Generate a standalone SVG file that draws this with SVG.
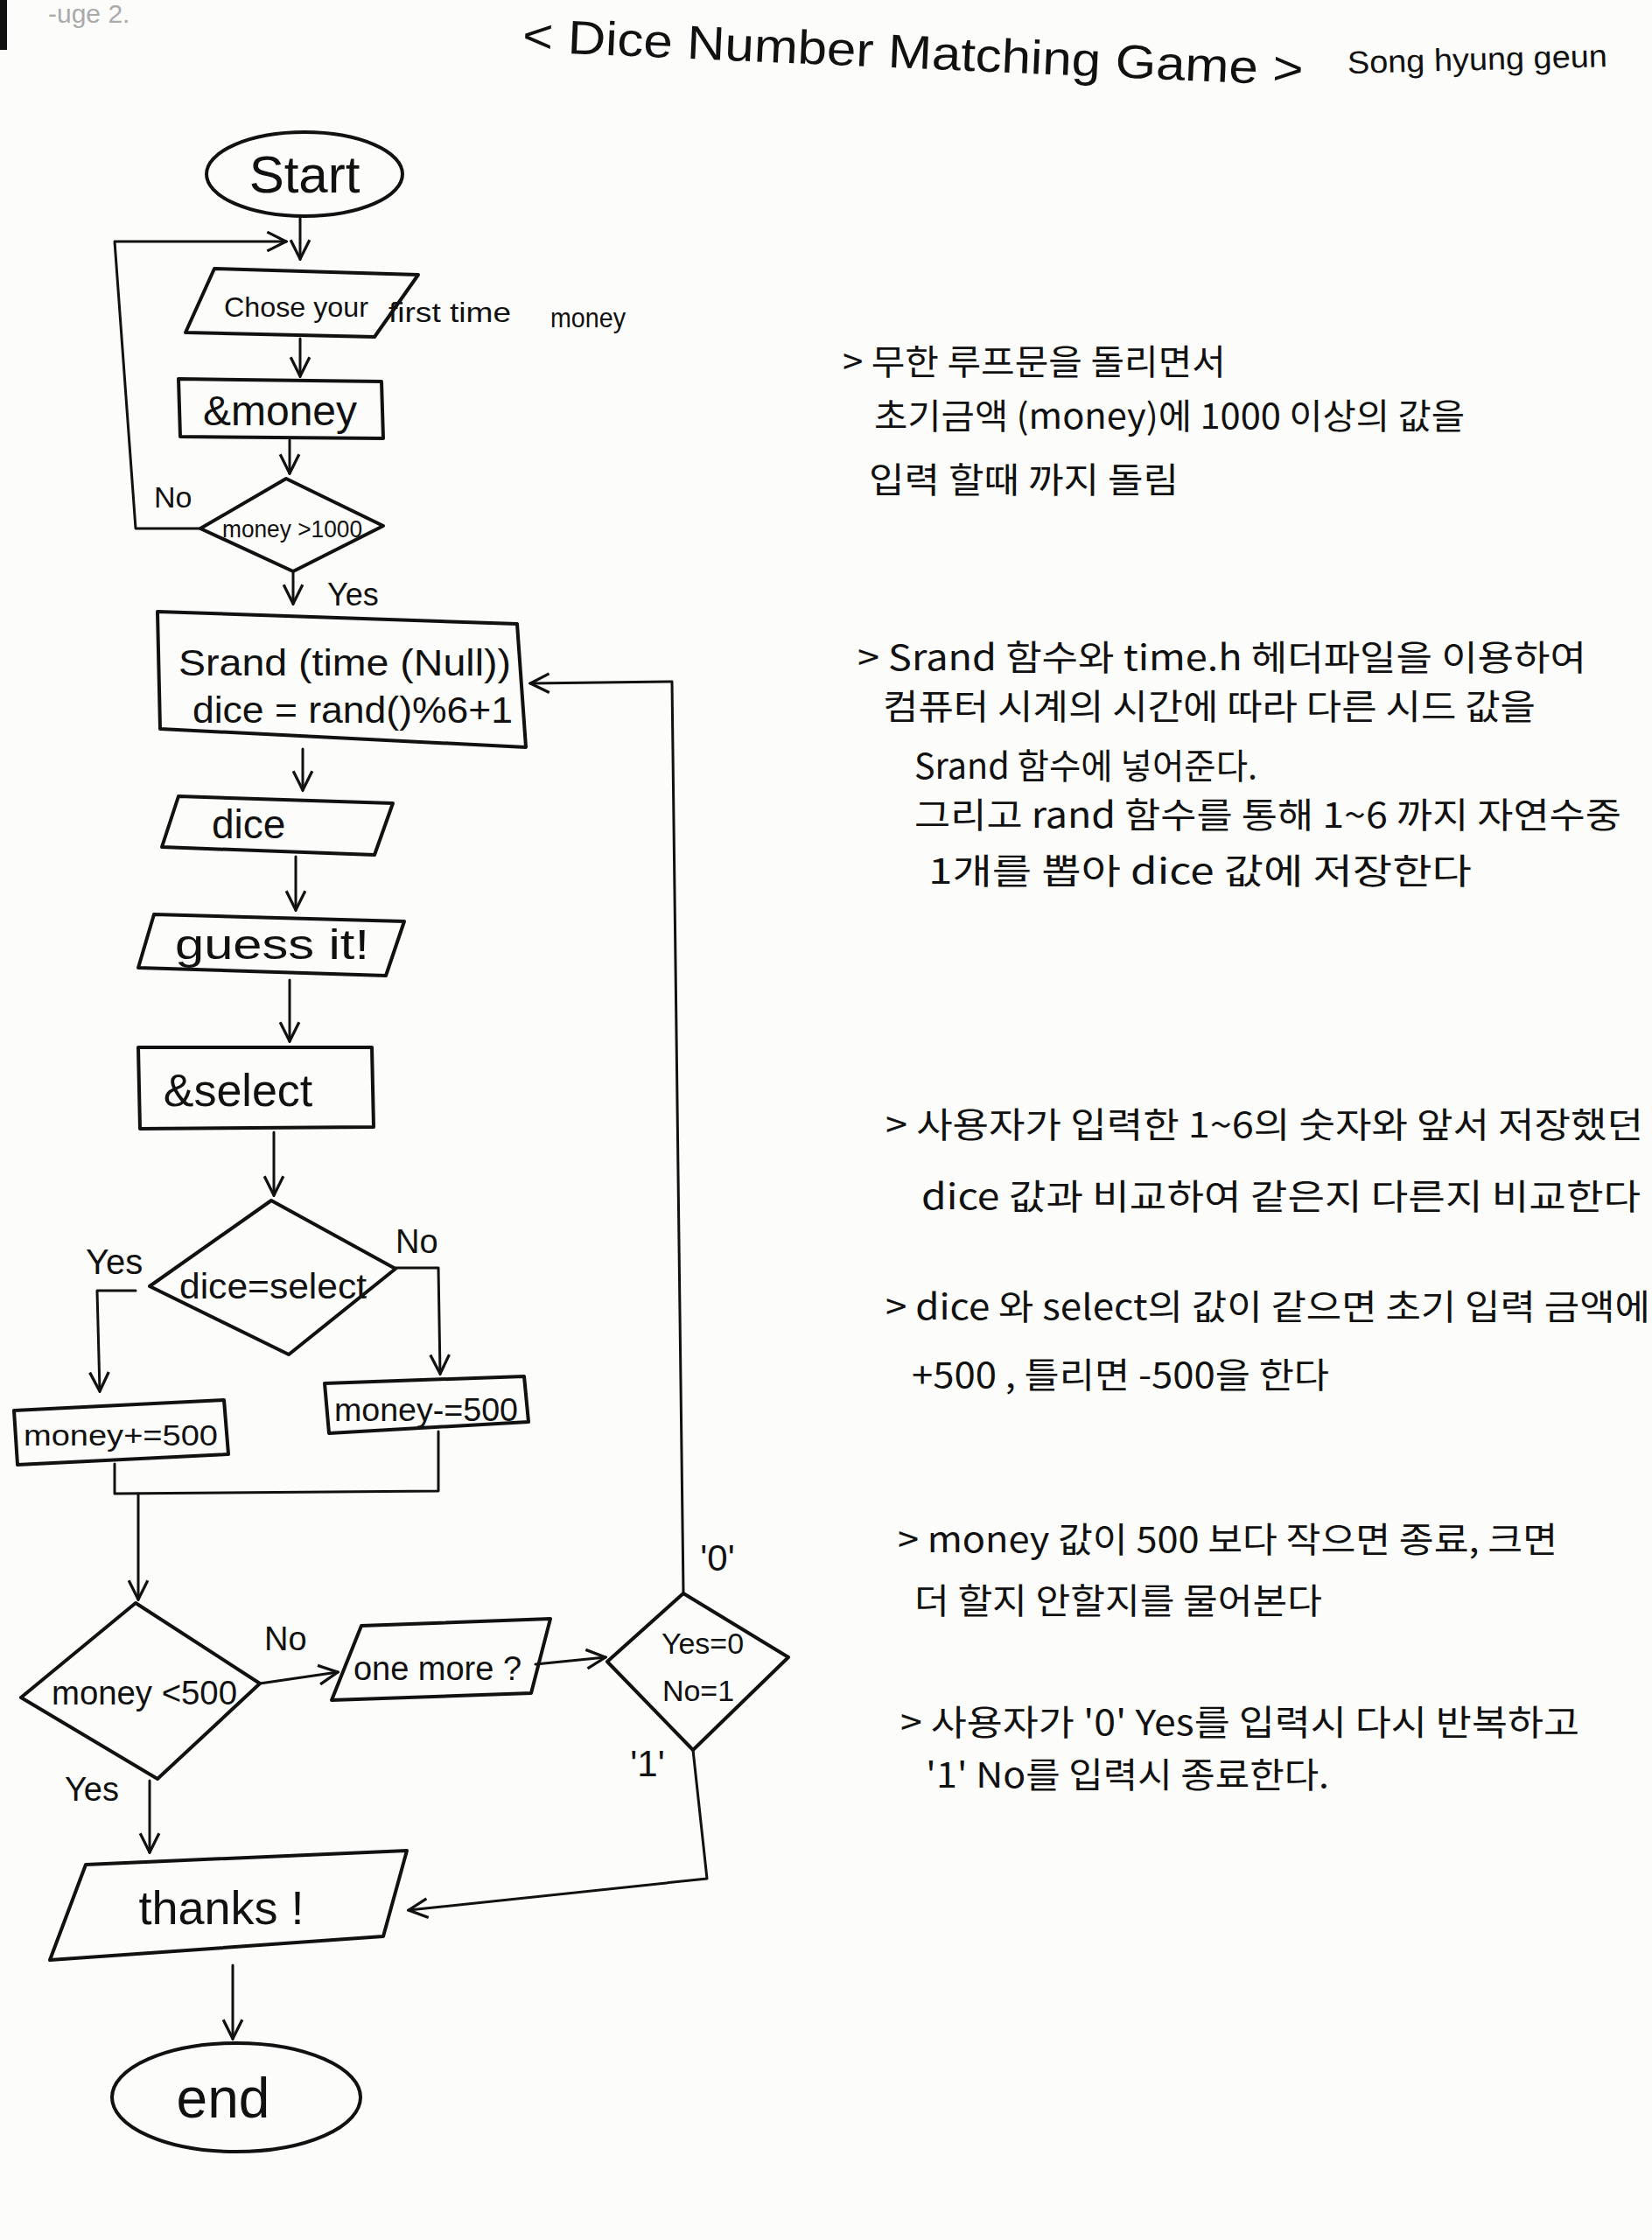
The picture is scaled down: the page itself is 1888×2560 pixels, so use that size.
<svg xmlns="http://www.w3.org/2000/svg" width="1888" height="2560" viewBox="0 0 1888 2560">
<defs>
<marker id="a" viewBox="0 0 12 12" refX="11" refY="6" markerWidth="26" markerHeight="26" markerUnits="userSpaceOnUse" orient="auto"><path d="M1,1 L11,6 L1,11" fill="none" stroke="#111" stroke-width="1.5"/></marker>
<style>
.s{fill:none;stroke:#111;stroke-width:4;stroke-linejoin:round;stroke-linecap:round}
.c{fill:none;stroke:#111;stroke-width:3;stroke-linecap:round;stroke-linejoin:round}
.t{font-family:"Liberation Sans","Noto Sans CJK KR",sans-serif;fill:#111}
.m{text-anchor:middle}
.k{font-family:"Noto Sans CJK KR","Liberation Sans",sans-serif;fill:#111;font-size:40px}
</style>
</defs>
<rect width="1888" height="2560" fill="#fcfcfa"/>
<rect x="0" y="0" width="8" height="57" fill="#111"/>
<text class="t" x="55" y="26" font-size="30" style="fill:#aaa">-uge 2.</text>
<g id="title">
<text class="t" x="596" y="78" font-size="54" textLength="893" lengthAdjust="spacingAndGlyphs" transform="rotate(2.5 1040 80)">&lt; Dice Number Matching Game &gt;</text>
<text class="t" x="1540" y="80" font-size="36" textLength="297" lengthAdjust="spacingAndGlyphs" transform="rotate(-1.5 1690 75)">Song hyung geun</text>
</g>
<g id="connectors">
<path class="c" d="M343,247 L343,296" marker-end="url(#a)"/>
<path class="c" d="M229,604 L155,604 L131,276 L327,276" marker-end="url(#a)"/>
<path class="c" d="M343,387 L343,430" marker-end="url(#a)"/>
<path class="c" d="M331,503 L331,541" marker-end="url(#a)"/>
<path class="c" d="M335,655 L335,690" marker-end="url(#a)"/>
<path class="c" d="M346,856 L346,903" marker-end="url(#a)"/>
<path class="c" d="M338,979 L338,1040" marker-end="url(#a)"/>
<path class="c" d="M331,1120 L331,1190" marker-end="url(#a)"/>
<path class="c" d="M313,1294 L313,1366" marker-end="url(#a)"/>
<path class="c" d="M155,1475 L111,1475 L114,1590" marker-end="url(#a)"/>
<path class="c" d="M452,1449 L501,1449 L503,1570" marker-end="url(#a)"/>
<path class="c" d="M131,1673 L131,1707 L501,1704 L501,1636"/>
<path class="c" d="M158,1707 L158,1828" marker-end="url(#a)"/>
<path class="c" d="M297,1924 L386,1911" marker-end="url(#a)"/>
<path class="c" d="M612,1902 L692,1894" marker-end="url(#a)"/>
<path class="c" d="M781,1821 L768,779 L606,781" marker-end="url(#a)"/>
<path class="c" d="M171,2035 L171,2117" marker-end="url(#a)"/>
<path class="c" d="M792,2000 L808,2147 L467,2183" marker-end="url(#a)"/>
<path class="c" d="M266,2246 L266,2330" marker-end="url(#a)"/>
<text class="t" x="176" y="580" font-size="34">No</text>
<text class="t" x="374" y="692" font-size="36">Yes</text>
<text class="t" x="98" y="1456" font-size="40">Yes</text>
<text class="t" x="452" y="1432" font-size="38">No</text>
<text class="t" x="302" y="1886" font-size="38">No</text>
<text class="t" x="74" y="2058" font-size="38">Yes</text>
<text class="t m" x="820" y="1795" font-size="42">'0'</text>
<text class="t m" x="740" y="2030" font-size="42">'1'</text>
</g>
<g id="start"><ellipse class="s" cx="348" cy="199" rx="112" ry="48"/><text class="t m" x="348" y="220" font-size="60">Start</text></g>
<g id="input-money"><polygon class="s" points="245,307 478,314 428,385 212,380"/>
<text class="t" x="256" y="362" font-size="32" textLength="165" lengthAdjust="spacingAndGlyphs">Chose your</text>
<text class="t" x="444" y="368" font-size="32" textLength="140" lengthAdjust="spacingAndGlyphs">first time</text>
<text class="t" x="629" y="374" font-size="32" textLength="86" lengthAdjust="spacingAndGlyphs">money</text></g>
<g id="read-money"><polygon class="s" points="204,433 436,436 438,501 206,499"/><text class="t m" x="320" y="486" font-size="48">&amp;money</text></g>
<g id="check-money"><polygon class="s" points="327,547 438,601 335,653 229,604"/><text class="t m" x="334" y="614" font-size="28" textLength="160" lengthAdjust="spacingAndGlyphs">money &gt;1000</text></g>
<g id="srand"><polygon class="s" points="180,699 591,713 601,854 183,833"/>
<text class="t" x="204" y="772" font-size="42" textLength="380" lengthAdjust="spacingAndGlyphs">Srand (time (Null))</text>
<text class="t" x="220" y="826" font-size="42" textLength="366" lengthAdjust="spacingAndGlyphs">dice = rand()%6+1</text></g>
<g id="dice"><polygon class="s" points="204,910 449,918 428,977 185,968"/><text class="t" x="242" y="958" font-size="46">dice</text></g>
<g id="guess"><polygon class="s" points="176,1045 462,1053 441,1115 158,1106"/><text class="t" x="200" y="1096" font-size="48" textLength="222" lengthAdjust="spacingAndGlyphs">guess it!</text></g>
<g id="select"><polygon class="s" points="158,1197 425,1197 427,1288 160,1290"/><text class="t m" x="272" y="1264" font-size="52">&amp;select</text></g>
<g id="compare"><polygon class="s" points="310,1372 452,1450 330,1548 171,1470"/><text class="t m" x="312" y="1484" font-size="40" textLength="214" lengthAdjust="spacingAndGlyphs">dice=select</text></g>
<g id="plus"><polygon class="s" points="16,1612 256,1600 261,1662 20,1674"/><text class="t m" x="138" y="1652" font-size="34" textLength="222" lengthAdjust="spacingAndGlyphs">money+=500</text></g>
<g id="minus"><polygon class="s" points="371,1581 599,1573 604,1625 376,1638"/><text class="t m" x="487" y="1624" font-size="36" textLength="210" lengthAdjust="spacingAndGlyphs">money-=500</text></g>
<g id="check-500"><polygon class="s" points="155,1832 297,1924 180,2033 24,1940"/><text class="t m" x="165" y="1948" font-size="38" textLength="212" lengthAdjust="spacingAndGlyphs">money &lt;500</text></g>
<g id="one-more"><polygon class="s" points="413,1858 629,1850 607,1935 379,1943"/><text class="t m" x="500" y="1920" font-size="38">one more ?</text></g>
<g id="yes-no"><polygon class="s" points="781,1821 901,1894 792,2000 694,1899"/>
<text class="t m" x="803" y="1890" font-size="34">Yes=0</text>
<text class="t m" x="798" y="1944" font-size="34">No=1</text></g>
<g id="thanks"><polygon class="s" points="98,2131 465,2115 438,2213 57,2240"/><text class="t m" x="253" y="2199" font-size="54">thanks !</text></g>
<g id="end"><ellipse class="s" cx="270" cy="2397" rx="142" ry="62"/><text class="t m" x="255" y="2420" font-size="64">end</text></g>
<g id="notes">
<text class="k" x="963" y="428" textLength="438" lengthAdjust="spacingAndGlyphs">&gt; 무한 루프문을 돌리면서</text>
<text class="k" x="999" y="490" textLength="675" lengthAdjust="spacingAndGlyphs">초기금액 (money)에 1000 이상의 값을</text>
<text class="k" x="993" y="563" textLength="354" lengthAdjust="spacingAndGlyphs">입력 할때 까지 돌림</text>
<text class="k" x="980" y="766" textLength="833" lengthAdjust="spacingAndGlyphs">&gt; Srand 함수와 time.h 헤더파일을 이용하여</text>
<text class="k" x="1009" y="822" textLength="746" lengthAdjust="spacingAndGlyphs">컴퓨터 시계의 시간에 따라 다른 시드 값을</text>
<text class="k" x="1045" y="890" textLength="392" lengthAdjust="spacingAndGlyphs">Srand 함수에 넣어준다.</text>
<text class="k" x="1045" y="946" textLength="808" lengthAdjust="spacingAndGlyphs">그리고 rand 함수를 통해 1~6 까지 자연수중</text>
<text class="k" x="1061" y="1010" textLength="621" lengthAdjust="spacingAndGlyphs">1개를 뽑아 dice 값에 저장한다</text>
<text class="k" x="1012" y="1300" textLength="866" lengthAdjust="spacingAndGlyphs">&gt; 사용자가 입력한 1~6의 숫자와 앞서 저장했던</text>
<text class="k" x="1053" y="1382" textLength="822" lengthAdjust="spacingAndGlyphs">dice 값과 비교하여 같은지 다른지 비교한다</text>
<text class="k" x="1012" y="1508" textLength="874" lengthAdjust="spacingAndGlyphs">&gt; dice 와 select의 값이 같으면 초기 입력 금액에</text>
<text class="k" x="1042" y="1586" textLength="477" lengthAdjust="spacingAndGlyphs">+500 , 틀리면 -500을 한다</text>
<text class="k" x="1026" y="1774" textLength="754" lengthAdjust="spacingAndGlyphs">&gt; money 값이 500 보다 작으면 종료, 크면</text>
<text class="k" x="1045" y="1844" textLength="466" lengthAdjust="spacingAndGlyphs">더 할지 안할지를 물어본다</text>
<text class="k" x="1029" y="1983" textLength="776" lengthAdjust="spacingAndGlyphs">&gt; 사용자가 '0' Yes를 입력시 다시 반복하고</text>
<text class="k" x="1058" y="2043" textLength="461" lengthAdjust="spacingAndGlyphs">'1' No를 입력시 종료한다.</text>
</g>
</svg>
